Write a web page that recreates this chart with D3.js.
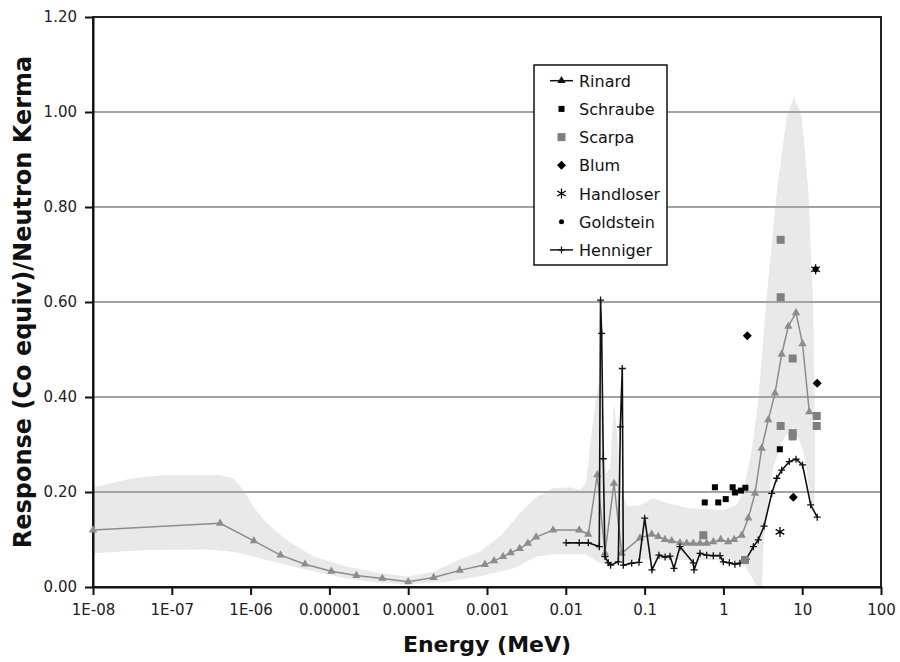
<!DOCTYPE html>
<html>
<head>
    <meta charset="utf-8">
    <title>Response vs Energy</title>
    <script src="https://d3js.org/d3.v7.min.js"></script>
    <style>
        body { margin: 0; background: #fff; }
        text { font-family: "DejaVu Sans", Verdana, sans-serif; }
    </style>
</head>
<body>
<div id="chart"></div>
<script>
// ---- data (energy in MeV, response) ----
const xTickValues = [1e-8, 1e-7, 1e-6, 1e-5, 1e-4, 1e-3, 0.01, 0.1, 1, 10, 100];
const xTickLabels = ["1E-08", "1E-07", "1E-06", "0.00001", "0.0001", "0.001", "0.01", "0.1", "1", "10", "100"];
const yTickValues = [0, 0.2, 0.4, 0.6, 0.8, 1.0, 1.2];

const rinard = [
    [1e-8, 0.12], [4.1e-7, 0.134], [1.1e-6, 0.097], [2.4e-6, 0.067], [4.9e-6, 0.048],
    [1.06e-5, 0.033], [2.2e-5, 0.024], [4.7e-5, 0.018], [1e-4, 0.011], [2.1e-4, 0.02],
    [4.5e-4, 0.035], [9.4e-4, 0.047], [1.23e-3, 0.055], [1.6e-3, 0.064], [2.0e-3, 0.072],
    [2.6e-3, 0.081], [3.3e-3, 0.092], [4.2e-3, 0.105], [6.9e-3, 0.12], [0.0148, 0.12],
    [0.0193, 0.111], [0.0251, 0.236], [0.0314, 0.071], [0.0409, 0.218], [0.0512, 0.071],
    [0.0874, 0.103], [0.123, 0.111], [0.149, 0.106], [0.181, 0.1], [0.221, 0.097],
    [0.281, 0.093], [0.342, 0.092], [0.415, 0.092], [0.505, 0.092], [0.614, 0.092],
    [0.745, 0.095], [0.925, 0.1], [1.15, 0.095], [1.37, 0.1], [1.71, 0.109],
    [2.07, 0.145], [2.52, 0.197], [3.06, 0.292], [3.71, 0.352], [4.52, 0.408],
    [5.49, 0.49], [6.67, 0.549], [8.35, 0.577], [10.1, 0.512], [12.3, 0.369]
];

const henniger = [
    [0.0101, 0.093], [0.0148, 0.093], [0.0193, 0.093], [0.0266, 0.085], [0.0276, 0.604],
    [0.0285, 0.534], [0.0299, 0.27], [0.0314, 0.064], [0.0346, 0.051], [0.0371, 0.046],
    [0.0464, 0.053], [0.0492, 0.337], [0.0521, 0.46], [0.0537, 0.046], [0.0686, 0.05],
    [0.0849, 0.052], [0.1003, 0.145], [0.124, 0.036], [0.152, 0.067], [0.182, 0.063],
    [0.21, 0.065], [0.236, 0.039], [0.281, 0.085], [0.415, 0.051], [0.424, 0.036],
    [0.505, 0.071], [0.614, 0.067], [0.745, 0.066], [0.906, 0.066], [0.998, 0.053],
    [1.19, 0.051], [1.40, 0.048], [1.62, 0.05], [1.94, 0.058], [2.40, 0.085],
    [2.77, 0.099], [3.28, 0.128], [4.10, 0.197], [4.75, 0.229], [5.49, 0.246],
    [6.86, 0.264], [8.35, 0.269], [10.1, 0.257], [12.8, 0.173], [15.5, 0.147]
];

const schraube = [[0.58, 0.178], [0.78, 0.21], [0.86, 0.178], [1.07, 0.185], [1.31, 0.21],
    [1.40, 0.199], [1.67, 0.203], [1.90, 0.209], [5.2, 0.29]];
const scarpa = [[0.556, 0.109], [1.88, 0.057], [5.33, 0.731], [5.33, 0.61], [5.33, 0.339],
    [7.57, 0.481], [7.57, 0.324], [7.57, 0.317], [15.3, 0.36], [15.3, 0.339]];
const blum = [[2.01, 0.529], [7.71, 0.189], [15.5, 0.429]];
const handloser = [[5.22, 0.116], [14.8, 0.669]];
const goldstein = [[15.5, 0.429], [14.8, 0.669]];

// uncertainty band, upper edge left to right and lower edge left to right
const bandUpper = [
    [1e-8, 0.21], [2.95e-8, 0.228], [7.8e-8, 0.236], [4.1e-7, 0.236], [6.0e-7, 0.229],
    [8.1e-7, 0.204], [1.08e-6, 0.169], [1.6e-6, 0.134], [2.87e-6, 0.099], [6.25e-6, 0.064],
    [1.66e-5, 0.043], [4.4e-5, 0.029], [1e-4, 0.022], [2.08e-4, 0.032], [4.5e-4, 0.058],
    [8.1e-4, 0.074], [1.5e-3, 0.108], [2.6e-3, 0.155], [4.3e-3, 0.19], [6.9e-3, 0.208],
    [0.0113, 0.21], [0.0151, 0.204], [0.018, 0.22], [0.0203, 0.295], [0.0242, 0.40],
    [0.0264, 0.43], [0.0288, 0.36], [0.0324, 0.24], [0.0364, 0.25], [0.0409, 0.39],
    [0.046, 0.30], [0.0516, 0.2], [0.0598, 0.17], [0.0875, 0.172], [0.128, 0.187],
    [0.21, 0.175], [0.377, 0.166], [0.99, 0.162], [1.48, 0.173], [1.79, 0.2],
    [2.29, 0.288], [2.77, 0.394], [3.54, 0.611], [4.74, 0.829], [6.35, 0.99],
    [7.87, 1.032], [9.86, 0.99], [11.95, 0.836], [13.8, 0.59], [14.5, 0.345],
    [14.5, 0.204], [14.1, 0.17]
];
const bandLower = [
    [1e-8, 0.071], [4.8e-8, 0.078], [2.77e-7, 0.079], [6.0e-7, 0.074], [1.6e-6, 0.057],
    [5.15e-6, 0.036], [1.66e-5, 0.018], [4.4e-5, 0.009], [1e-4, 0.006], [3.08e-4, 0.011],
    [8.1e-4, 0.022], [2.16e-3, 0.039], [4.27e-3, 0.064], [6.9e-3, 0.069], [0.0113, 0.069],
    [0.0175, 0.07], [0.027, 0.05], [0.049, 0.05], [0.0875, 0.058], [0.377, 0.057],
    [1.37, 0.057], [1.88, 0.045], [2.3, 0.02], [2.68, 0.0], [3.09, 0.0],
    [3.21, 0.078], [3.54, 0.162], [4.3, 0.253], [5.7, 0.31], [7.7, 0.338],
    [10.3, 0.288], [11.95, 0.219], [13.0, 0.175]
];

// ---- layout ----
let width = 900;
let height = 662;
let plotLeft = 93, plotRight = 881, plotTop = 17, plotBottom = 587;

let svg = d3.select("#chart")
    .append("svg")
    .attr("width", width)
    .attr("height", height);

let xScale = d3.scaleLog().domain([1e-8, 100]).range([plotLeft, plotRight]);
let yScale = d3.scaleLinear().domain([0, 1.2]).range([plotBottom, plotTop]);

// band
let bandPts = bandUpper.concat(bandLower.slice().reverse());
svg.append("path")
    .attr("d", d3.line().x(d => xScale(d[0])).y(d => yScale(d[1])).curve(d3.curveLinearClosed)(bandPts))
    .attr("fill", "#e9e9e9")
    .attr("stroke", "none");

// gridlines
svg.append("g")
    .selectAll("line")
    .data(yTickValues.filter(v => v > 0 && v < 1.2))
    .enter()
    .append("line")
    .attr("x1", plotLeft)
    .attr("x2", plotRight)
    .attr("y1", d => yScale(d))
    .attr("y2", d => yScale(d))
    .attr("stroke", "#a3a3a3")
    .attr("stroke-width", 2);

// frame
svg.append("rect")
    .attr("x", plotLeft)
    .attr("y", plotTop)
    .attr("width", plotRight - plotLeft)
    .attr("height", plotBottom - plotTop)
    .attr("fill", "none")
    .attr("stroke", "#222")
    .attr("stroke-width", 2);

// axes
let xAxis = d3.axisBottom(xScale)
    .tickValues(xTickValues)
    .tickFormat((d, i) => xTickLabels[i])
    .tickSize(8)
    .tickSizeOuter(0)
    .tickPadding(9);
let yAxis = d3.axisLeft(yScale)
    .tickValues(yTickValues)
    .tickFormat(d3.format(".2f"))
    .tickSize(8)
    .tickSizeOuter(0)
    .tickPadding(8);

let gx = svg.append("g")
    .attr("transform", "translate(0," + plotBottom + ")")
    .call(xAxis);
let gy = svg.append("g")
    .attr("transform", "translate(" + plotLeft + ",0)")
    .call(yAxis);

[gx, gy].forEach(g => {
    g.select(".domain").attr("stroke", "#111").attr("stroke-width", 2);
    g.selectAll(".tick line").attr("stroke", "#111").attr("stroke-width", 2);
    g.selectAll(".tick text")
        .attr("fill", "#222")
        .style("font-size", "15px")
        .style("font-family", "'DejaVu Sans', Verdana, sans-serif");
});

// axis titles
svg.append("text")
    .attr("x", (plotLeft + plotRight) / 2)
    .attr("y", 652)
    .attr("text-anchor", "middle")
    .style("font-size", "22px")
    .style("font-weight", "bold")
    .attr("fill", "#111")
    .text("Energy (MeV)");

svg.append("text")
    .attr("transform", "translate(31," + ((plotTop + plotBottom) / 2) + ") rotate(-90)")
    .attr("text-anchor", "middle")
    .style("font-size", "24px")
    .style("font-weight", "bold")
    .attr("fill", "#111")
    .text("Response (Co equiv)/Neutron Kerma");

// markers
let triangle = d3.symbol().type(d3.symbolTriangle).size(30);
let diamondPath = "M0,-4.5L4.5,0L0,4.5L-4.5,0Z";
let plusPath = "M-3.5,0H3.5M0,-3.5V3.5";
let starPath = "M0,-5V5M-4.3,-2.5L4.3,2.5M-4.3,2.5L4.3,-2.5";

let lineGen = d3.line().x(d => xScale(d[0])).y(d => yScale(d[1]));

// Rinard
svg.append("path")
    .attr("d", lineGen(rinard))
    .attr("fill", "none")
    .attr("stroke", "#8c8c8c")
    .attr("stroke-width", 1.5);
svg.append("g")
    .selectAll("path")
    .data(rinard)
    .enter()
    .append("path")
    .attr("d", triangle)
    .attr("transform", d => "translate(" + xScale(d[0]) + "," + yScale(d[1]) + ")")
    .attr("fill", "#8c8c8c");

// Henniger
svg.append("path")
    .attr("d", lineGen(henniger))
    .attr("fill", "none")
    .attr("stroke", "#111")
    .attr("stroke-width", 1.6);
svg.append("g")
    .selectAll("path")
    .data(henniger)
    .enter()
    .append("path")
    .attr("d", plusPath)
    .attr("transform", d => "translate(" + xScale(d[0]) + "," + yScale(d[1]) + ")")
    .attr("stroke", "#111")
    .attr("stroke-width", 1.3);

// Scarpa
svg.append("g")
    .selectAll("rect")
    .data(scarpa)
    .enter()
    .append("rect")
    .attr("x", d => xScale(d[0]) - 4)
    .attr("y", d => yScale(d[1]) - 4)
    .attr("width", 8)
    .attr("height", 8)
    .attr("fill", "#7f7f7f");

// Schraube
svg.append("g")
    .selectAll("rect")
    .data(schraube)
    .enter()
    .append("rect")
    .attr("x", d => xScale(d[0]) - 3)
    .attr("y", d => yScale(d[1]) - 3)
    .attr("width", 6)
    .attr("height", 6)
    .attr("fill", "#000");

// Blum
svg.append("g")
    .selectAll("path")
    .data(blum)
    .enter()
    .append("path")
    .attr("d", diamondPath)
    .attr("transform", d => "translate(" + xScale(d[0]) + "," + yScale(d[1]) + ")")
    .attr("fill", "#000");

// Handloser
svg.append("g")
    .selectAll("path")
    .data(handloser)
    .enter()
    .append("path")
    .attr("d", starPath)
    .attr("transform", d => "translate(" + xScale(d[0]) + "," + yScale(d[1]) + ")")
    .attr("stroke", "#000")
    .attr("stroke-width", 1.3);

// Goldstein
svg.append("g")
    .selectAll("circle")
    .data(goldstein)
    .enter()
    .append("circle")
    .attr("cx", d => xScale(d[0]))
    .attr("cy", d => yScale(d[1]))
    .attr("r", 3)
    .attr("fill", "#000");

// legend
let legendItems = ["Rinard", "Schraube", "Scarpa", "Blum", "Handloser", "Goldstein", "Henniger"];
let legend = svg.append("g").attr("transform", "translate(534,65)");
legend.append("rect")
    .attr("width", 133)
    .attr("height", 200)
    .attr("fill", "#fff")
    .attr("stroke", "#111")
    .attr("stroke-width", 1.5);

let rows = legend.selectAll("g.row")
    .data(legendItems)
    .enter()
    .append("g")
    .attr("class", "row")
    .attr("transform", (d, i) => "translate(0," + (15.7 + i * 28.2) + ")");

rows.append("text")
    .attr("x", 45)
    .attr("y", 6)
    .style("font-size", "16px")
    .attr("fill", "#111")
    .text(d => d);

rows.each(function (d) {
    let g = d3.select(this).append("g").attr("transform", "translate(27.5,0)");
    if (d == "Rinard" || d == "Henniger") {
        g.append("line").attr("x1", -11.5).attr("x2", 11.5)
            .attr("stroke", "#111").attr("stroke-width", 1.5);
    }
    if (d == "Rinard") g.append("path").attr("d", triangle).attr("fill", "#111");
    if (d == "Henniger") g.append("path").attr("d", plusPath).attr("stroke", "#111").attr("stroke-width", 1.3);
    if (d == "Schraube") g.append("rect").attr("x", -3).attr("y", -3).attr("width", 6).attr("height", 6).attr("fill", "#000");
    if (d == "Scarpa") g.append("rect").attr("x", -4).attr("y", -4).attr("width", 8).attr("height", 8).attr("fill", "#7f7f7f");
    if (d == "Blum") g.append("path").attr("d", diamondPath).attr("fill", "#000");
    if (d == "Handloser") g.append("path").attr("d", starPath).attr("stroke", "#000").attr("stroke-width", 1.3);
    if (d == "Goldstein") g.append("circle").attr("r", 2.5).attr("fill", "#000");
});
</script>
</body>
</html>
